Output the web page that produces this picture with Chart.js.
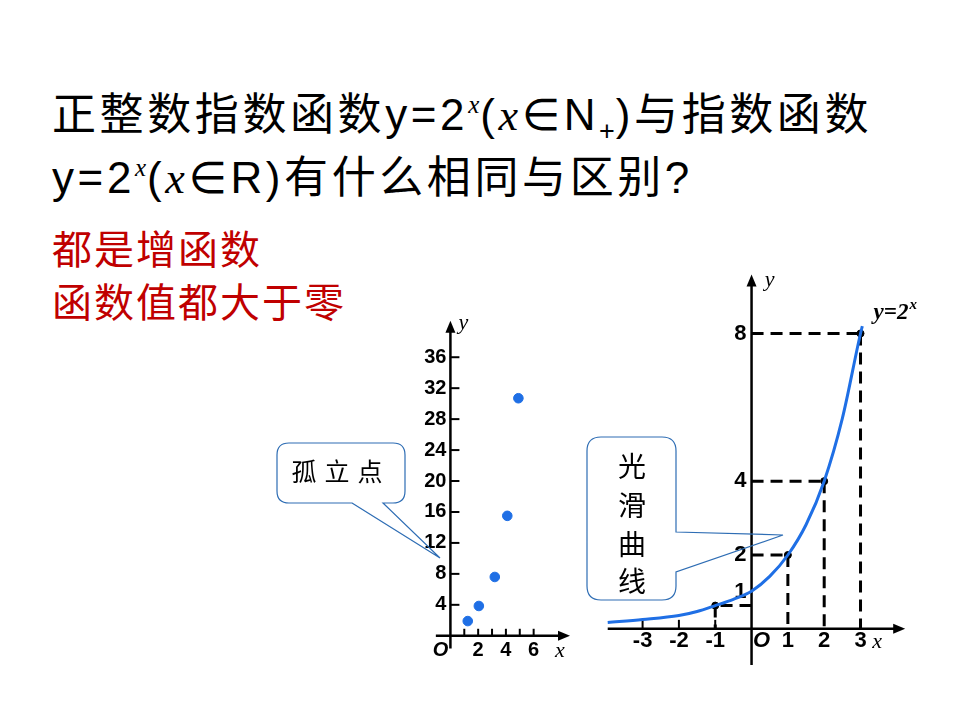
<!DOCTYPE html>
<html>
<head>
<meta charset="utf-8">
<script src="https://cdn.jsdelivr.net/npm/chart.js@4.4.1/dist/chart.umd.min.js"></script>
<style>
html, body { margin: 0; padding: 0; background: #fff; }
#page { position: relative; width: 960px; height: 720px; overflow: hidden; background: #fff; }
.title {
    position: absolute; left: 52px; top: 87px;
    font-family: "Liberation Sans", "Noto Sans CJK SC", sans-serif;
    font-size: 44px; line-height: 56px; letter-spacing: 3.6px;
    color: #000; white-space: nowrap;
}
.title .it { font-family: "Liberation Serif", serif; font-style: italic; }
.title .sup { font-family: "Liberation Serif", serif; font-style: italic; font-size: 25px; position: relative; top: -17px; letter-spacing: 1px; }
.title .sub { font-size: 27px; position: relative; top: 10px; letter-spacing: 1px; }
.title .sym { font-family: "DejaVu Sans", sans-serif; }
.answer {
    position: absolute; left: 52px; top: 221px;
    font-family: "Noto Sans CJK SC", sans-serif;
    font-size: 40px; line-height: 53px; letter-spacing: 2px;
    color: #c00000; white-space: nowrap;
}
canvas { position: absolute; }
#leftChart { left: 403px; top: 305px; }
#rightChart { left: 594px; top: 262px; }
svg { position: absolute; left: 0; top: 0; }
</style>
</head>
<body>
<div id="page">
    <div class="title">正整数指数函数y=2<span class="sup">x</span>(<span class="it">x</span><span class="sym">∈</span>N<span class="sub">+</span>)与指数函数<br>y=2<span class="sup">x</span>(<span class="it">x</span><span class="sym">∈</span>R)有什么相同与区别?</div>
    <div class="answer">都是增函数<br>函数值都大于零</div>

    <canvas id="leftChart" width="185" height="383"></canvas>
    <canvas id="rightChart" width="326" height="418"></canvas>

    <svg width="960" height="720">
        <path d="M352,503 L440,558 L383,503 L393,503 Q405,503 405,491 L405,455 Q405,443 393,443 L289,443 Q277,443 277,455 L277,491 Q277,503 289,503 Z"
              fill="none" stroke="#2e6db4" stroke-width="1.2"/>
        <text x="341" y="481" text-anchor="middle" font-family="Noto Sans CJK SC" font-size="25" letter-spacing="8" fill="#000">孤立点</text>
        <path d="M676,572 L676,586 Q676,600 662,600 L601,600 Q587,600 587,586 L587,451 Q587,437 601,437 L662,437 Q676,437 676,451 L676,532 L783,535 Z"
              fill="none" stroke="#2e6db4" stroke-width="1.2"/>
        <g font-family="Noto Sans CJK SC" font-size="28" fill="#000" text-anchor="middle">
            <text x="632" y="477">光</text>
            <text x="632" y="516">滑</text>
            <text x="632" y="555">曲</text>
            <text x="632" y="592">线</text>
        </g>
    </svg>
</div>

<script>
// left: y = 2^x for x in N+ (isolated points)
const pointX = [1.25, 2.05, 3.2, 4.1, 4.9];
const pointY = [1.9, 3.85, 7.6, 15.5, 30.7];
const leftXTicks = [1, 2, 3, 4, 5, 6];
const leftXLabels = [2, 4, 6];
const leftYTicks = [4, 8, 12, 16, 20, 24, 28, 32, 36];

// right: y = 2^x for x in R (smooth curve)
const curveX = [-3.96, -3, -2, -1.5, -1, -0.5, 0, 0.5, 1, 1.5, 2, 2.5, 3, 3.05];
const curveY = [0.17, 0.25, 0.36, 0.47, 0.63, 0.8, 1.02, 1.42, 2.0, 2.82, 4.0, 5.7, 8.0, 8.2];
const markX = [-1, 1, 2, 3];
const markY = [0.63, 2, 4, 8];
const rightXTicks = [-3, -2, -1];
const rightXLabels = [-3, -2, -1, 1, 2, 3];
const rightYLabels = [1, 2, 4, 8];

const BLUE = '#1f6fe5';
const TICK_FONT = 'bold 20px "Liberation Sans", Arial, sans-serif';
const AXIS_NAME_FONT = 'italic 22px "Liberation Serif", serif';

function seg(ctx, x1, y1, x2, y2) {
    ctx.beginPath();
    ctx.moveTo(x1, y1);
    ctx.lineTo(x2, y2);
    ctx.stroke();
}

function arrowHead(ctx, x, y, dir) {
    ctx.beginPath();
    if (dir === 'right') {
        ctx.moveTo(x, y);
        ctx.lineTo(x - 12, y - 5);
        ctx.lineTo(x - 12, y + 5);
    } else {
        ctx.moveTo(x, y);
        ctx.lineTo(x - 5, y + 12);
        ctx.lineTo(x + 5, y + 12);
    }
    ctx.closePath();
    ctx.fill();
}

const leftAxes = {
    id: 'leftAxes',
    beforeDatasetsDraw(chart) {
        const ctx = chart.ctx;
        const xs = chart.scales.x;
        const ys = chart.scales.y;
        const x0 = xs.getPixelForValue(0);
        const y0 = ys.getPixelForValue(0);
        const xEnd = xs.getPixelForValue(8.62);
        const yTop = ys.getPixelForValue(40.7);

        ctx.save();
        ctx.strokeStyle = '#000';
        ctx.fillStyle = '#000';
        ctx.lineWidth = 2.5;
        seg(ctx, xs.getPixelForValue(-1.05), y0, xEnd - 4, y0);
        seg(ctx, x0, ys.getPixelForValue(-1.63), x0, yTop + 4);
        arrowHead(ctx, xEnd, y0, 'right');
        arrowHead(ctx, x0, yTop, 'up');

        ctx.lineWidth = 2;
        leftXTicks.forEach(v => {
            const px = xs.getPixelForValue(v);
            seg(ctx, px, y0, px, y0 - 7);
        });
        leftYTicks.forEach(v => {
            const py = ys.getPixelForValue(v);
            seg(ctx, x0, py, x0 + 9, py);
        });

        ctx.font = TICK_FONT;
        ctx.textBaseline = 'middle';
        ctx.textAlign = 'right';
        leftYTicks.forEach(v => {
            ctx.fillText(String(v), x0 - 4, ys.getPixelForValue(v));
        });
        ctx.textAlign = 'center';
        leftXLabels.forEach(v => {
            ctx.fillText(String(v), xs.getPixelForValue(v), y0 + 15);
        });
        ctx.font = 'bold italic 20px "Liberation Sans", Arial, sans-serif';
        ctx.fillText('O', x0 - 10, y0 + 15);

        ctx.font = AXIS_NAME_FONT;
        ctx.fillText('x', xEnd - 10, y0 + 15);
        ctx.fillText('y', x0 + 13, yTop + 2);
        ctx.restore();
    }
};

const rightAxes = {
    id: 'rightAxes',
    beforeDatasetsDraw(chart) {
        const ctx = chart.ctx;
        const xs = chart.scales.x;
        const ys = chart.scales.y;
        const x0 = xs.getPixelForValue(0);
        const y0 = ys.getPixelForValue(0);
        const xEnd = xs.getPixelForValue(4.23);
        const yTop = ys.getPixelForValue(9.6);

        ctx.save();
        ctx.strokeStyle = '#000';
        ctx.fillStyle = '#000';

        // dashed guides from each marked point to both axes
        ctx.lineWidth = 3;
        ctx.setLineDash([12, 7]);
        markX.forEach((mx, i) => {
            const px = xs.getPixelForValue(mx);
            const py = ys.getPixelForValue(markY[i]);
            seg(ctx, x0, py, px, py);
            seg(ctx, px, py, px, y0);
        });
        ctx.setLineDash([]);

        ctx.lineWidth = 2.5;
        seg(ctx, xs.getPixelForValue(-3.96), y0, xEnd - 4, y0);
        seg(ctx, x0, ys.getPixelForValue(-0.98), x0, yTop + 4);
        arrowHead(ctx, xEnd, y0, 'right');
        arrowHead(ctx, x0, yTop, 'up');

        ctx.lineWidth = 2;
        rightXTicks.forEach(v => {
            const px = xs.getPixelForValue(v);
            seg(ctx, px, y0, px, y0 - 9);
        });

        ctx.font = 'bold 22px "Liberation Sans", Arial, sans-serif';
        ctx.textBaseline = 'middle';
        ctx.textAlign = 'center';
        rightXLabels.forEach(v => {
            ctx.fillText(String(v), xs.getPixelForValue(v), y0 + 12);
        });
        ctx.textAlign = 'right';
        rightYLabels.forEach(v => {
            ctx.fillText(String(v), x0 - 5, ys.getPixelForValue(v));
        });
        ctx.textAlign = 'center';
        ctx.font = 'bold italic 22px "Liberation Sans", Arial, sans-serif';
        ctx.fillText('O', x0 + 10, y0 + 12);

        ctx.font = AXIS_NAME_FONT;
        ctx.fillText('x', xEnd - 28, y0 + 13);
        ctx.fillText('y', x0 + 18, yTop + 6);

        // curve name
        ctx.textAlign = 'left';
        ctx.font = 'bold italic 23px "Liberation Serif", serif';
        const lx = xs.getPixelForValue(3.36);
        const ly = ys.getPixelForValue(8.55);
        ctx.fillText('y=2', lx, ly);
        const w = ctx.measureText('y=2').width;
        ctx.font = 'bold italic 15px "Liberation Serif", serif';
        ctx.fillText('x', lx + w + 1, ly - 8);
        ctx.restore();
    }
};

const noChrome = {
    responsive: false,
    animation: false,
    layout: { padding: 0 },
    plugins: { legend: { display: false }, tooltip: { enabled: false } },
};

new Chart(document.getElementById('leftChart'), {
    type: 'scatter',
    data: {
        datasets: [{
            data: pointX.map((x, i) => ({ x: x, y: pointY[i] })),
            backgroundColor: BLUE,
            borderColor: BLUE,
            pointRadius: 4.8,
            clip: false
        }]
    },
    options: {
        ...noChrome,
        scales: {
            x: { type: 'linear', display: false, min: -3, max: 9.5 },
            y: { type: 'linear', display: false, min: -6, max: 42 }
        }
    },
    plugins: [leftAxes]
});

new Chart(document.getElementById('rightChart'), {
    type: 'line',
    data: {
        datasets: [{
            data: curveX.map((x, i) => ({ x: x, y: curveY[i] })),
            borderColor: BLUE,
            backgroundColor: 'transparent',
            borderWidth: 3,
            pointRadius: 0,
            cubicInterpolationMode: 'monotone',
            clip: false
        }, {
            data: markX.map((x, i) => ({ x: x, y: markY[i] })),
            showLine: false,
            backgroundColor: '#000',
            borderColor: '#000',
            pointRadius: 3.5,
            clip: false
        }]
    },
    options: {
        ...noChrome,
        scales: {
            x: { type: 'linear', display: false, min: -4.2, max: 4.5 },
            y: { type: 'linear', display: false, min: -1.25, max: 9.8 }
        }
    },
    plugins: [rightAxes]
});
</script>
</body>
</html>
